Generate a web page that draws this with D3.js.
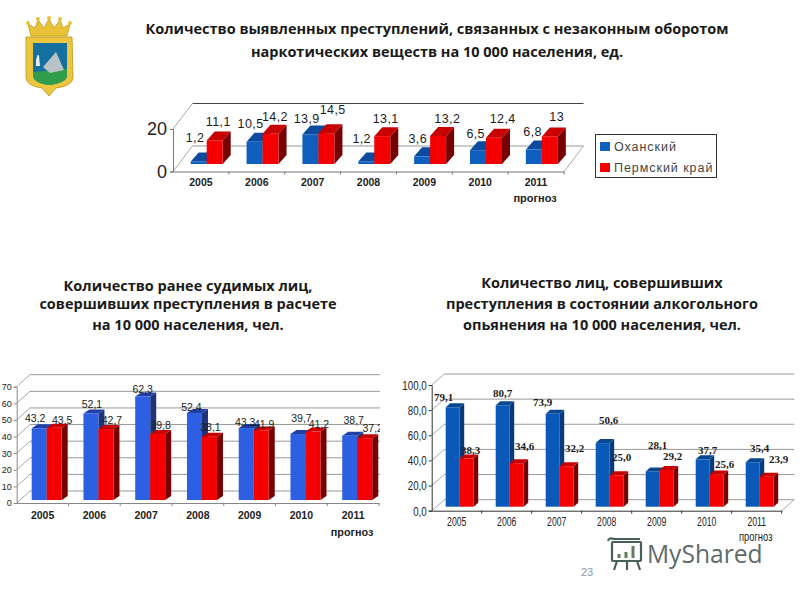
<!DOCTYPE html>
<html>
<head>
<meta charset="utf-8">
<script src="https://cdn.jsdelivr.net/npm/d3@7"></script>
<style>
  html, body { margin: 0; padding: 0; background: #fff; }
  svg { display: block; }
  .title { font-family: "Open Sans", sans-serif; font-weight: 700; font-size: 14.5px; fill: #1a1a1a; text-anchor: middle; }
</style>
</head>
<body>
<svg id="chart" width="800" height="600"></svg>
<script>
const years = ['2005', '2006', '2007', '2008', '2009', '2010', '2011'];
const seriesNames = ['Оханский', 'Пермский край'];

const drugsOkhansk = [1.2, 10.5, 13.9, 1.2, 3.6, 6.5, 6.8];
const drugsPerm = [11.1, 14.2, 14.5, 13.1, 13.2, 12.4, 13];
const drugsTicks = [0, 20];

const convictedOkhansk = [43.2, 52.1, 62.3, 52.4, 43.3, 39.7, 38.7];
const convictedPerm = [43.5, 42.7, 39.8, 38.1, 41.9, 41.2, 37.2];
const convictedTicks = [0, 10, 20, 30, 40, 50, 60, 70];

const alcoholOkhansk = [79.1, 80.7, 73.9, 50.6, 28.1, 37.7, 35.4];
const alcoholPerm = [38.3, 34.6, 32.2, 25.0, 29.2, 25.6, 23.9];
const alcoholTicks = [0, 20, 40, 60, 80, 100];

const svg = d3.select('#chart');
const comma = d => String(d).replace('.', ',');
const commaFixed = d => d3.format('.1f')(d).replace('.', ',');

// hand placed label shifts, relative to the top of each bar
const drugsNudge = {
  blueX: [-3.7, -4, -3.7, -4.6, -4.4, -2.3, -1.2], blueY: [-19.8, -13.7, -11.8, -18.8, -13.4, -12.5, -13.9],
  redX: [3.6, 4.4, 6.3, 3.4, 9.2, 8.7, 6.8], redY: [-14.4, -13.1, -19.2, -13.5, -13.3, -14.9, -15.4]
};
const convictedNudge = {
  blueX: [-4, 1, 0, -3, -1, 3.5, 4], blueY: [-6.6, -5.5, -3.6, -2, -2.3, -12.3, -11.8],
  redX: [8, 6, 3, 1, 3, 6, 8], redY: [-4, -5, -5, -6, -2, -3.3, -6.5]
};
const alcoholNudge = {
  blueX: [-9, 0, -10, 6, 5, 5, 7], blueY: [-6, -8, -8, -19, -22, -5, -10],
  redX: [4, 8, 8, 5, 6, 8, 12], redY: [-5, -13, -14.5, -14, -10, -7, -14]
};

// no narrow font here, so squeeze the text instead
function squeeze(sel, factor) {
  if (!factor) return;
  sel.each(function () {
    d3.select(this)
      .attr('textLength', this.getComputedTextLength() * factor)
      .attr('lengthAdjust', 'spacingAndGlyphs');
  });
}

function drawChart(c) {
  const g = svg.append('g');
  if (c.clipX) {
    const id = 'clip' + c.name;
    svg.append('clipPath').attr('id', id).append('rect')
      .attr('x', 0).attr('y', 0).attr('width', c.clipX).attr('height', 600);
    g.attr('clip-path', `url(#${id})`);
  }

  const y = d3.scaleLinear().domain([0, c.ticks[c.ticks.length - 1]]).range([c.y0, c.yTop]);
  const x = d3.scaleBand().domain(years).range([c.x0, c.x1]);
  const inner = d3.scaleBand().domain(seriesNames).range([c.barStart, c.barStart + 2 * c.barW]);
  const base = c.y0 - c.barLift;
  const barTop = v => y(v) - c.barLift;

  // back wall and floor
  g.selectAll('.grid').data(c.ticks).join('line')
    .attr('x1', c.x0 + c.wallX).attr('x2', c.x1 + c.wallX)
    .attr('y1', d => y(d) - c.wallY).attr('y2', d => y(d) - c.wallY)
    .attr('stroke', d => d === c.ticks[c.ticks.length - 1] && c.darkTop ? '#444' : '#999')
    .attr('stroke-width', 1);
  g.selectAll('.wall').data(c.ticks).join('line')
    .attr('x1', c.x0).attr('x2', c.x0 + c.wallX)
    .attr('y1', d => y(d)).attr('y2', d => y(d) - c.wallY)
    .attr('stroke', '#aaa');
  if (c.rightEdge) {
    g.append('line')
      .attr('x1', c.x1).attr('x2', c.x1 + c.wallX)
      .attr('y1', c.y0).attr('y2', c.y0 - c.wallY)
      .attr('stroke', '#aaa');
  }

  // bars, blue first so the red one sits over its side face
  const rows = years.map((year, i) => [
    { year, i, name: seriesNames[0], v: c.blue[i], fill: c.blueFill, top: c.blueTop, side: c.blueSide, dx: c.nudge.blueX[i], dy: c.nudge.blueY[i] },
    { year, i, name: seriesNames[1], v: c.red[i], fill: '#f40000', top: '#c80000', side: '#760000', dx: c.nudge.redX[i], dy: c.nudge.redY[i] }
  ]);
  const bars = rows.flat();
  const left = d => x(d.year) + inner(d.name);

  g.selectAll('.side').data(bars).join('polygon')
    .attr('fill', d => d.side)
    .attr('points', d => {
      const r = left(d) + c.barW;
      return [[r, base], [r + c.barDx, base - c.barDy], [r + c.barDx, barTop(d.v) - c.barDy], [r, barTop(d.v)]].join(' ');
    });
  g.selectAll('.top').data(bars).join('polygon')
    .attr('fill', d => d.top)
    .attr('points', d => {
      const t = barTop(d.v);
      return [[left(d), t], [left(d) + c.barDx, t - c.barDy], [left(d) + c.barW + c.barDx, t - c.barDy], [left(d) + c.barW, t]].join(' ');
    });
  g.selectAll('.front').data(bars).join('rect')
    .attr('x', left).attr('width', c.barW)
    .attr('y', d => barTop(d.v)).attr('height', d => base - barTop(d.v))
    .attr('fill', d => d.fill);

  // axes
  const yAxis = g.append('g').attr('transform', `translate(${c.x0},0)`)
    .call(d3.axisLeft(y).tickValues(c.ticks).tickSize(3).tickPadding(c.tickPad).tickFormat(c.tickFormat));
  yAxis.select('.domain').attr('stroke', c.axisColor);
  yAxis.selectAll('line').attr('stroke', c.axisColor);
  yAxis.selectAll('text').attr('font-family', 'Liberation Sans').attr('font-size', c.tickSize).attr('fill', '#222')
    .call(squeeze, c.narrow);

  const xAxis = g.append('g').attr('transform', `translate(0,${c.y0})`)
    .call(d3.axisBottom(x).tickSize(0).tickPadding(c.yearPad));
  xAxis.select('.domain').attr('stroke', c.axisColor);
  xAxis.selectAll('text')
    .attr('font-family', 'Liberation Sans').attr('font-size', c.yearSize)
    .attr('font-weight', c.yearWeight).attr('fill', '#222')
    .call(squeeze, c.narrow);
  g.selectAll('.xtick').data(years).join('line')
    .attr('x1', d => x(d) + x.step()).attr('x2', d => x(d) + x.step())
    .attr('y1', c.y0).attr('y2', c.y0 + 3)
    .attr('stroke', c.axisColor);

  g.append('text')
    .attr('x', x(years[6]) + x.step() / 2 + c.noteX).attr('y', c.noteY)
    .attr('text-anchor', 'middle')
    .attr('font-family', 'Liberation Sans').attr('font-size', c.noteSize).attr('font-weight', c.noteWeight)
    .attr('fill', '#222')
    .text('прогноз')
    .call(squeeze, c.narrow);

  g.selectAll('.value').data(bars).join('text')
    .attr('x', d => left(d) + c.barW / 2 + d.dx)
    .attr('y', d => barTop(d.v) + d.dy)
    .attr('text-anchor', 'middle')
    .attr('font-family', c.labelFont).attr('font-size', c.labelSize).attr('font-weight', c.labelWeight)
    .attr('letter-spacing', c.labelSpacing)
    .attr('fill', '#1c1c1c')
    .text(d => c.labelFormat(d.v));
}

drawChart({
  name: 'drugs', blue: drugsOkhansk, red: drugsPerm, ticks: drugsTicks, nudge: drugsNudge,
  x0: 173, x1: 564, y0: 171.5, yTop: 129, wallX: 19.5, wallY: 25.5, rightEdge: true, darkTop: true,
  barStart: 17.7, barW: 16, barDx: 8, barDy: 9, barLift: 7.5,
  blueFill: '#0f5fbf', blueTop: '#0b4a9c', blueSide: '#0a3a7a', axisColor: '#777',
  tickFormat: d => d, tickSize: 18, tickPad: 3,
  yearSize: 10.5, yearWeight: 700, yearPad: 7,
  noteX: -1, noteY: 202, noteSize: 11, noteWeight: 700,
  labelFont: 'Liberation Sans', labelSize: 12.5, labelWeight: 400, labelSpacing: 0.4, labelFormat: comma
});

drawChart({
  name: 'convicted', blue: convictedOkhansk, red: convictedPerm, ticks: convictedTicks, nudge: convictedNudge,
  x0: 16.7, x1: 379, y0: 503, yTop: 386.7, wallX: 13.3, wallY: 12, clipX: 380,
  barStart: 15, barW: 15, barDx: 6, barDy: 4, barLift: 3,
  blueFill: '#2c5fe2', blueTop: '#2040a8', blueSide: '#1f3478', axisColor: '#888',
  tickFormat: d => d, tickSize: 9, tickPad: 2,
  yearSize: 10.5, yearWeight: 700, yearPad: 9,
  noteX: -1, noteY: 536, noteSize: 10.8, noteWeight: 700,
  labelFont: 'Liberation Sans', labelSize: 10.5, labelWeight: 400, labelSpacing: 0, labelFormat: comma
});

drawChart({
  name: 'alcohol', blue: alcoholOkhansk, red: alcoholPerm, ticks: alcoholTicks, nudge: alcoholNudge,
  x0: 431.7, x1: 781.7, y0: 510.7, yTop: 385, wallX: 12.6, wallY: 11, rightEdge: true,
  barStart: 14, barW: 14, barDx: 4.5, barDy: 4, barLift: 4,
  blueFill: '#0a58b8', blueTop: '#07488f', blueSide: '#063a78', axisColor: '#333',
  tickFormat: commaFixed, tickSize: 13.5, tickPad: 2, narrow: 0.72,
  yearSize: 12, yearWeight: 400, yearPad: 7,
  noteX: -1, noteY: 541, noteSize: 13, noteWeight: 400,
  labelFont: 'Liberation Serif', labelSize: 11, labelWeight: 700, labelSpacing: 0, labelFormat: commaFixed
});

// legend of the top chart
const legendColors = ['#0f5fbf', '#f40000'];
const legendRow = d3.scaleBand().domain(seriesNames).range([136, 178]);
const legend = svg.append('g');
legend.append('rect')
  .attr('x', 595.5).attr('y', 134.5).attr('width', 121).attr('height', 43)
  .attr('fill', '#fff').attr('stroke', '#333');
legend.selectAll('rect.key').data(seriesNames).join('rect')
  .attr('class', 'key')
  .attr('x', 600).attr('y', d => legendRow(d) + 6)
  .attr('width', 10).attr('height', 9)
  .attr('fill', (d, i) => legendColors[i]);
legend.selectAll('text').data(seriesNames).join('text')
  .attr('x', 614).attr('y', d => legendRow(d) + 15)
  .attr('font-family', 'Liberation Sans').attr('font-size', 12.5).attr('letter-spacing', 0.95)
  .attr('fill', '#444')
  .text(d => d);

// titles
const titles = [
  { x: 437, lines: [['Количество выявленных преступлений, связанных с незаконным оборотом', 34], ['наркотических веществ на 10 000 населения, ед.', 57]] },
  { x: 188, lines: [['Количество ранее судимых лиц,', 291], ['совершивших  преступления в расчете', 309], ['на 10 000 населения, чел.', 330]] },
  { x: 602, lines: [['Количество лиц, совершивших', 288], ['преступления в состоянии алкогольного', 309], ['опьянения на 10 000 населения, чел.', 330]] }
];
titles.forEach(t => {
  svg.selectAll(null).data(t.lines).join('text')
    .attr('class', 'title')
    .attr('x', t.x).attr('y', d => d[1])
    .text(d => d[0]);
});

// coat of arms
const arms = svg.append('g');
arms.append('path').attr('fill', '#e9c23a').attr('stroke', '#d0a72a')
  .attr('d', 'M31,36 L28,24 L35,28 L38,20 L44,28 L49,19 L54,28 L60,20 L63,28 L70,24 L67,36 Z');
arms.selectAll('circle').data([[28, 23], [38, 19], [49, 18], [60, 19], [70, 23]]).join('circle')
  .attr('cx', d => d[0]).attr('cy', d => d[1]).attr('r', 2).attr('fill', '#e9c23a');
arms.append('path').attr('fill', '#edc63f').attr('stroke', '#c9a22a')
  .attr('d', 'M26,37 L72,37 L73,78 Q72,86 56,88 L49,96 L42,88 Q27,86 26,78 Z');
arms.append('path').attr('fill', '#16709f')
  .attr('d', 'M33,43 L67,43 L67,76 Q66,83 49,85 Q34,83 33,76 Z');
arms.append('path').attr('fill', '#2f9d4a')
  .attr('d', 'M33,72 L67,69 L67,76 Q66,83 49,85 Q34,83 33,76 Z');
arms.append('path').attr('fill', '#b9c3c6')
  .attr('d', 'M43,67 L56,52 L64,70 L50,73 Z');
arms.append('path').attr('fill', '#e8eef0')
  .attr('d', 'M36,60 Q38,52 39,56 L40,66 L36,66 Z');

// watermark and slide number
const mark = svg.append('g').attr('fill', 'none').attr('stroke', '#47605a').attr('stroke-width', 2.2);
mark.append('rect').attr('x', 612).attr('y', 542).attr('width', 29).attr('height', 19).attr('rx', 1);
mark.append('path').attr('d', 'M608,541 Q609,537 614,539 L640,539 M617,561 L614,570 M637,561 L640,570 M627,561 L627,570');
mark.append('path').attr('stroke', '#5f7f5f').attr('stroke-width', 3).attr('d', 'M619,558 L619,554 M626,558 L626,552 M633,558 L633,546');
svg.append('text')
  .attr('x', 647).attr('y', 563)
  .attr('font-family', 'Open Sans').attr('font-size', 24.6)
  .attr('fill', '#5d6b6b')
  .text('MyShared');
svg.append('text')
  .attr('x', 587).attr('y', 576)
  .attr('text-anchor', 'middle')
  .attr('font-family', 'Liberation Sans').attr('font-size', 11)
  .attr('fill', '#8a9aa8')
  .text('23');
</script>
</body>
</html>
